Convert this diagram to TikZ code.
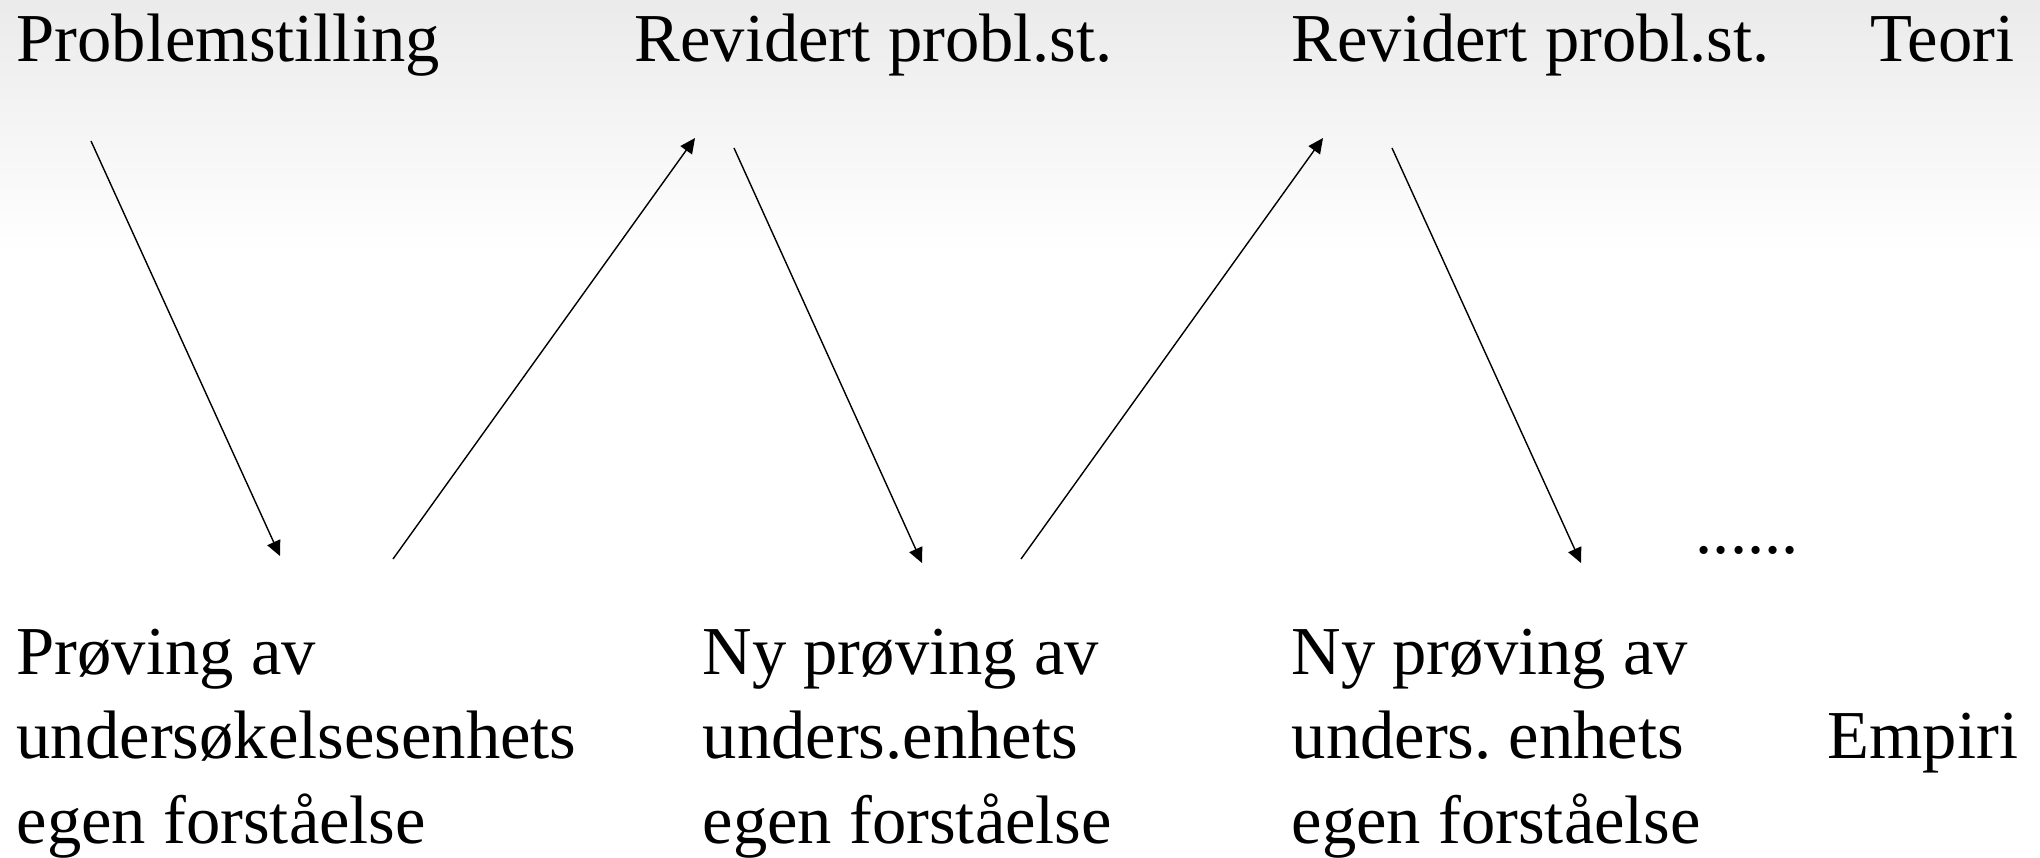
\documentclass[tikz,border=0pt]{standalone}
\usepackage{fontspec}
\setmainfont{Liberation Serif}
\usetikzlibrary{arrows.meta}
\begin{document}
\frenchspacing
\begin{tikzpicture}[x=0.01cm,y=-0.01cm]
\tikzstyle{every node}+=[inner sep=0pt,anchor=base west,font=\fontsize{19.5}{24}\selectfont]
\tikzstyle{flow}=[-{Triangle[length=4.3pt,width=4pt]},line width=0.4pt]
\useasboundingbox (0,0) rectangle (2040,857);
\fill [top color=black!8,bottom color=white] (0,0) rectangle (2040,255);
% theory level
\node (prob) at (16,61) {Problemstilling};
\node (rev1) at (634,61) {Revidert probl.st.};
\node (rev2) at (1291,61) {Revidert probl.st.};
\node (teori) at (1870,61) {Teori};
% empirical level (base = last line)
\node [align=left] (prov1) at (16,843) {Prøving av\\undersøkelsesenhets\\egen forståelse};
\node [align=left] (prov2) at (702,843) {Ny prøving av\\unders.enhets\\egen forståelse};
\node [align=left] (prov3) at (1291,843) {Ny prøving av\\unders. enhets\\egen forståelse};
\node (empiri) at (1827,758) {Empiri};
\node (dots) at (1695,553) {......};
% arrow ends
\coordinate (a1) at (91,141);
\coordinate (b1) at (280,556);
\coordinate (a2) at (393,559);
\coordinate (b2) at (695,138);
\coordinate (a3) at (734,148);
\coordinate (b3) at (922,563);
\coordinate (a4) at (1021,559);
\coordinate (b4) at (1323,138);
\coordinate (a5) at (1392,148);
\coordinate (b5) at (1581,563);
\draw [flow] (a1) -- (b1);
\draw [flow] (a2) -- (b2);
\draw [flow] (a3) -- (b3);
\draw [flow] (a4) -- (b4);
\draw [flow] (a5) -- (b5);
\end{tikzpicture}
\end{document}
